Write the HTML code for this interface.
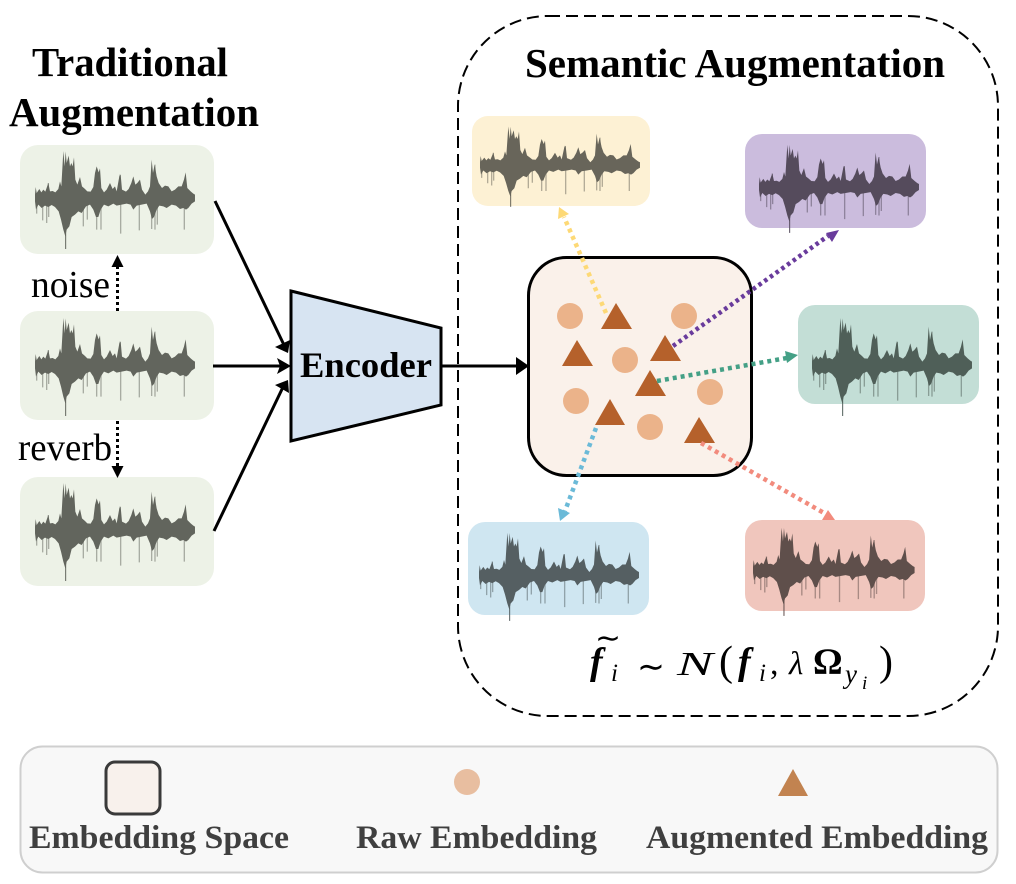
<!DOCTYPE html>
<html><head><meta charset="utf-8"><style>
html,body{margin:0;padding:0;background:#fff}
svg{display:block}
text{font-family:"Liberation Serif",serif}
</style></head><body>
<svg width="1016" height="884" viewBox="0 0 1016 884" xmlns="http://www.w3.org/2000/svg">
<defs>
<filter id="b" x="-5%" y="-5%" width="110%" height="110%"><feGaussianBlur stdDeviation="0.800"/></filter>
<g id="w" transform="scale(.3333) translate(-105,-205)" filter="url(#b)">
<path fill="none" stroke="currentColor" stroke-width="4" opacity=".5" d="M110,205V252M128,205V272M140,205V280M146,205V262M250,205V290M262,205V270M290,205V300M303,205V300M362,205V312M418,205V302M455,205V298M465,205V300M472,205V285M553,205V300M145,205V160M360,205V135M400,205V150M465,205V105"/>
<path fill="none" stroke="currentColor" stroke-width="3" d="M197,205V358"/>
<polygon fill="currentColor" points="105,195 107,172 110,190 118,178 124,188 130,180 136,186 145,160 150,185 158,184 166,188 175,178 180,155 184,170 190,64 194,110 197,65 200,100 206,78 210,110 214,100 218,110 222,83 226,150 232,165 240,142 246,170 255,178 262,185 272,186 280,172 285,130 290,110 296,128 300,116 304,175 312,188 320,180 330,160 338,178 345,170 350,185 358,140 362,135 366,180 378,186 386,178 394,160 400,140 406,165 412,160 420,150 426,180 436,195 444,185 450,170 455,90 459,130 464,105 470,140 476,160 486,175 495,168 505,170 515,185 525,180 535,170 545,170 552,150 557,128 562,175 572,185 580,192 585,195 585,215 575,222 565,235 558,240 550,235 540,238 528,228 515,225 500,235 490,230 478,228 470,240 462,262 456,268 450,245 440,222 425,225 410,228 400,240 392,225 380,222 365,225 350,228 340,222 325,230 312,225 302,240 295,262 288,262 280,240 270,225 258,230 245,250 235,245 225,255 215,262 208,290 200,300 196,320 190,300 183,270 176,245 165,232 155,226 145,232 135,228 125,235 115,225 108,240 105,215"/>
</g>
</defs>

<!-- dashed container -->
<rect x="458" y="16" width="540" height="700" rx="90" fill="none" stroke="#000" stroke-width="2" stroke-dasharray="12 6"/>

<!-- left panels -->
<rect x="20" y="145" width="194" height="109" rx="18" fill="#edf2e7"/>
<rect x="20" y="311" width="194" height="109" rx="18" fill="#edf2e7"/>
<rect x="20" y="477" width="194" height="109" rx="18" fill="#edf2e7"/>
<use href="#w" transform="translate(35,198)" color="#62655d"/>
<use href="#w" transform="translate(35,365)" color="#62655d"/>
<use href="#w" transform="translate(35,530)" color="#62655d"/>

<!-- right panels -->
<rect x="472" y="116" width="178" height="90" rx="16" fill="#fdf1d4"/>
<use href="#w" transform="translate(480,165) scale(1,.82)" color="#67655a"/>
<rect x="745" y="134" width="181" height="94" rx="17" fill="#cbbcdd"/>
<use href="#w" transform="translate(759,187) scale(1,.9)" color="#544c5c"/>
<rect x="798" y="305" width="181" height="99" rx="17" fill="#c3ded6"/>
<use href="#w" transform="translate(812,365)" color="#505e58"/>
<rect x="468" y="522" width="181" height="93" rx="17" fill="#cfe6f1"/>
<use href="#w" transform="translate(479,575) scale(1,.9)" color="#545f62"/>
<rect x="745" y="520" width="180" height="91" rx="17" fill="#f0c6bd"/>
<use href="#w" transform="translate(753,570) scale(1.01,.9)" color="#5f4f4b"/>

<!-- titles -->
<text x="32" y="76" font-size="41" font-weight="bold" textLength="196" lengthAdjust="spacingAndGlyphs">Traditional</text>
<text x="9" y="126" font-size="41" font-weight="bold" textLength="250" lengthAdjust="spacingAndGlyphs">Augmentation</text>
<text x="525" y="77" font-size="41" font-weight="bold" textLength="420" lengthAdjust="spacingAndGlyphs">Semantic Augmentation</text>

<text x="31" y="297" font-size="38" textLength="79" lengthAdjust="spacingAndGlyphs">noise</text>
<text x="18" y="460" font-size="38" textLength="94" lengthAdjust="spacingAndGlyphs">reverb</text>

<!-- dotted vertical arrows -->
<line x1="117.500" y1="311" x2="117.500" y2="266" stroke="#000" stroke-width="3" stroke-dasharray="3 3"/>
<polygon points="117.500,255 111.500,267 123.500,267" fill="#000"/>
<line x1="117.500" y1="421" x2="117.500" y2="466" stroke="#000" stroke-width="3" stroke-dasharray="3 3"/>
<polygon points="117.500,478 111.500,466 123.500,466" fill="#000"/>

<!-- encoder -->
<polygon points="291,291 441,328 441,405 291,441" fill="#d7e4f2" stroke="#000" stroke-width="3"/>
<text x="300" y="377" font-size="36" font-weight="bold" textLength="132" lengthAdjust="spacingAndGlyphs">Encoder</text>

<!-- black arrows -->
<g stroke="#000" stroke-width="3" fill="none">
<line x1="215" y1="201" x2="284" y2="345"/>
<line x1="213" y1="366" x2="286" y2="366"/>
<line x1="214" y1="531" x2="284" y2="385"/>
<line x1="441" y1="366" x2="520" y2="366"/>
</g>
<polygon points="288,353 275,347 290,340" fill="#000"/>
<polygon points="291,366 277,358 280,366 277,374" fill="#000"/>
<polygon points="288,380 275,385 289,393" fill="#000"/>
<polygon points="529,366 516,357 516,375" fill="#000"/>

<!-- embedding box -->
<rect x="528.500" y="257.500" width="223" height="218" rx="38" fill="#faf1ea" stroke="#000" stroke-width="3"/>
<g fill="#ebb38a">
<circle cx="570" cy="316" r="13"/>
<circle cx="684" cy="316" r="13"/>
<circle cx="625" cy="360" r="13"/>
<circle cx="576" cy="401" r="13"/>
<circle cx="710" cy="392" r="13"/>
<circle cx="650" cy="427" r="13"/>
</g>
<g fill="#b5612b">
<polygon points="616,303 601,329 632,329"/>
<polygon points="577,340 562,366 593,366"/>
<polygon points="665,335 650,361 681,361"/>
<polygon points="650,370 635,396 666,396"/>
<polygon points="610,399 595,425 625,425"/>
<polygon points="699,417 684,443 715,443"/>
</g>

<!-- coloured dotted arrows -->
<g fill="none" stroke-width="4.500" stroke-dasharray="4 4">
<line x1="606" y1="313" x2="564" y2="217" stroke="#fdd976"/>
<line x1="673" y1="346" x2="828" y2="236" stroke="#693b9c" stroke-dasharray="3.500 3.500"/>
<line x1="657" y1="381" x2="787" y2="358" stroke="#44a086"/>
<line x1="596" y1="428" x2="565" y2="511" stroke="#6bbad8"/>
<line x1="701" y1="443" x2="824" y2="513" stroke="#f28b7d"/>
</g>
<polygon points="559,207 558,219 569,214" fill="#fdd976"/>
<polygon points="839,230 826,233 832,242" fill="#693b9c"/>
<polygon points="798,355 785,351 787,363" fill="#44a086"/>
<polygon points="560,521 558,508 570,513" fill="#6bbad8"/>
<polygon points="835,520 822,520 828,510" fill="#f28b7d"/>

<!-- formula -->
<g font-size="38">
<text x="590" y="674" font-weight="bold" font-style="italic">f</text>
<text x="611" y="681" font-size="25" font-style="italic">i</text>
<text x="595" y="648" font-size="30" font-family="DejaVu Sans" textLength="26" lengthAdjust="spacingAndGlyphs">∼</text>
<text x="637" y="678" font-size="34" font-family="DejaVu Sans" textLength="28" lengthAdjust="spacingAndGlyphs">∼</text>
<text x="677" y="675" font-style="italic" font-size="34" textLength="36" lengthAdjust="spacingAndGlyphs">N</text>
<text x="719" y="675" font-size="42">(</text>
<text x="738" y="674" font-weight="bold" font-style="italic">f</text>
<text x="759" y="681" font-size="25" font-style="italic">i</text>
<text x="770" y="674" font-size="34">,</text>
<text x="789" y="674" font-style="italic" font-size="33" font-family="DejaVu Serif">λ</text>
<text x="813" y="674" font-weight="bold" font-size="37">Ω</text>
<text x="845" y="683" font-size="27" font-style="italic">y</text>
<text x="862" y="689" font-size="19" font-style="italic">i</text>
<text x="879" y="675" font-size="42">)</text>
</g>

<!-- legend -->
<rect x="20.500" y="746.500" width="977" height="126" rx="22" fill="#f8f8f8" stroke="#cfcfcf" stroke-width="2"/>
<rect x="106" y="762" width="54" height="52" rx="9" fill="#f8f1ec" stroke="#3a3a3a" stroke-width="3"/>
<circle cx="467" cy="782" r="13" fill="#e8bea0"/>
<polygon points="793,769 778,796 808,796" fill="#c28350"/>
<g fill="#3f3f3f" font-size="33" font-weight="bold">
<text x="29" y="848" textLength="260" lengthAdjust="spacingAndGlyphs">Embedding Space</text>
<text x="356" y="848" textLength="241" lengthAdjust="spacingAndGlyphs">Raw Embedding</text>
<text x="646" y="848" textLength="342" lengthAdjust="spacingAndGlyphs">Augmented Embedding</text>
</g>
</svg>
</body></html>
